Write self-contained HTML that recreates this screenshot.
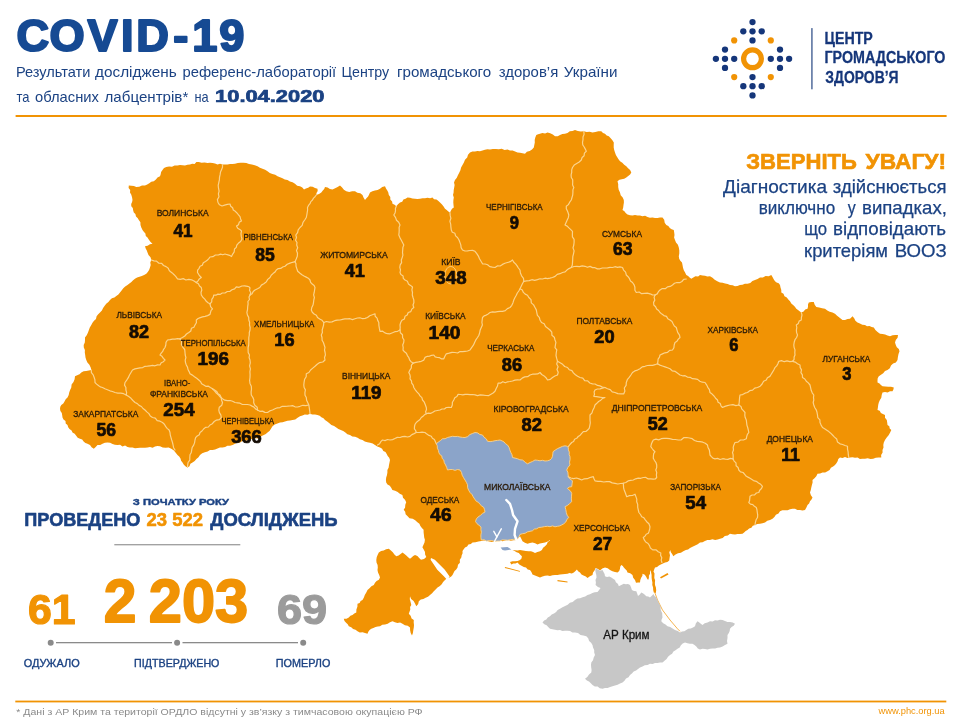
<!DOCTYPE html>
<html lang="uk"><head><meta charset="utf-8"><title>COVID-19</title>
<style>html,body{margin:0;padding:0;background:#fff}body{width:960px;height:721px;overflow:hidden}svg{display:block}text{font-family:"Liberation Sans",sans-serif}</style></head><body>
<svg width="960" height="721" viewBox="0 0 960 721">
<rect width="960" height="721" fill="#fff"/>
<text x="16.4 49.6 87.6 121.1 136.2 173.2 192.2 219.2" y="50.9" font-size="45.2" fill="#164A93" font-weight="bold" stroke="#164A93" stroke-width="2.1" stroke-linejoin="round">COVID-19</text>
<text y="77.2" font-size="14.2" fill="#1B4283" lengthAdjust="spacingAndGlyphs"><tspan x="15.97" textLength="74.48" lengthAdjust="spacingAndGlyphs">Результати</tspan> <tspan x="95.00" textLength="81.72" lengthAdjust="spacingAndGlyphs">досліджень</tspan> <tspan x="182.50" textLength="153.74" lengthAdjust="spacingAndGlyphs">референс-лабораторії</tspan> <tspan x="341.50" textLength="47.59" lengthAdjust="spacingAndGlyphs">Центру</tspan> <tspan x="397.00" textLength="94.18" lengthAdjust="spacingAndGlyphs">громадського</tspan> <tspan x="498.80" textLength="59.42" lengthAdjust="spacingAndGlyphs">здоров’я</tspan> <tspan x="563.80" textLength="53.69" lengthAdjust="spacingAndGlyphs">України</tspan></text>
<text y="102.3" font-size="14.2" fill="#1B4283" lengthAdjust="spacingAndGlyphs"><tspan x="16.40" textLength="13.00" lengthAdjust="spacingAndGlyphs">та</tspan> <tspan x="35.00" textLength="63.90" lengthAdjust="spacingAndGlyphs">обласних</tspan> <tspan x="104.50" textLength="83.79" lengthAdjust="spacingAndGlyphs">лабцентрів*</tspan> <tspan x="194.50" textLength="14.20" lengthAdjust="spacingAndGlyphs">на</tspan></text>
<text x="215.09" y="102.3" font-size="17.4" fill="#1B4283" textLength="109.40" lengthAdjust="spacingAndGlyphs" font-weight="bold" stroke="#1B4283" stroke-width="0.7" stroke-linejoin="round">10.04.2020</text>
<rect x="15.6" y="115" width="931" height="2" fill="#F19304"/>
<g fill="#15367A">
<circle cx="752.5" cy="22.1" r="3.15"/>
<circle cx="743.3" cy="31.3" r="3.15"/>
<circle cx="752.5" cy="31.3" r="3.15"/>
<circle cx="761.7" cy="31.3" r="3.15"/>
<circle cx="752.5" cy="40.4" r="3.15"/>
<circle cx="752.5" cy="95.4" r="3.15"/>
<circle cx="743.3" cy="86.2" r="3.15"/>
<circle cx="752.5" cy="86.2" r="3.15"/>
<circle cx="761.7" cy="86.2" r="3.15"/>
<circle cx="752.5" cy="77.1" r="3.15"/>
<circle cx="715.9" cy="58.8" r="3.15"/>
<circle cx="725.0" cy="49.6" r="3.15"/>
<circle cx="725.0" cy="58.8" r="3.15"/>
<circle cx="725.0" cy="67.9" r="3.15"/>
<circle cx="734.2" cy="58.8" r="3.15"/>
<circle cx="789.1" cy="58.8" r="3.15"/>
<circle cx="780.0" cy="49.6" r="3.15"/>
<circle cx="780.0" cy="58.8" r="3.15"/>
<circle cx="780.0" cy="67.9" r="3.15"/>
<circle cx="770.8" cy="58.8" r="3.15"/>
</g>
<g fill="#F19304">
<circle cx="734.2" cy="40.4" r="3.1"/>
<circle cx="770.8" cy="40.4" r="3.1"/>
<circle cx="734.2" cy="77.1" r="3.1"/>
<circle cx="770.8" cy="77.1" r="3.1"/>
</g>
<circle cx="752.5" cy="58.8" r="8.9" fill="none" stroke="#F19304" stroke-width="5.2"/>
<rect x="811.3" y="28.1" width="1.25" height="61.2" fill="#2F4F88"/>
<text x="824.53" y="44.3" font-size="17.4" fill="#15367A" textLength="48.31" lengthAdjust="spacingAndGlyphs" font-weight="bold" stroke="#15367A" stroke-width="0.3" stroke-linejoin="round">ЦЕНТР</text>
<text x="824.53" y="63.1" font-size="17.4" fill="#15367A" textLength="120.95" lengthAdjust="spacingAndGlyphs" font-weight="bold" stroke="#15367A" stroke-width="0.3" stroke-linejoin="round">ГРОМАДСЬКОГО</text>
<text x="825.35" y="82.9" font-size="17.4" fill="#15367A" textLength="73.20" lengthAdjust="spacingAndGlyphs" font-weight="bold" stroke="#15367A" stroke-width="0.3" stroke-linejoin="round">ЗДОРОВ’Я</text>
<text y="169.0" font-size="21.2" fill="#F19304" lengthAdjust="spacingAndGlyphs" font-weight="bold" stroke-width="0.6" stroke-linejoin="round" stroke="#F19304"><tspan x="746.30" textLength="110.64" lengthAdjust="spacingAndGlyphs">ЗВЕРНІТЬ</tspan> <tspan x="865.50" textLength="80.53" lengthAdjust="spacingAndGlyphs">УВАГУ!</tspan></text>
<text y="192.6" font-size="17.8" fill="#1B4283" lengthAdjust="spacingAndGlyphs" stroke-width="0.25" stroke-linejoin="round" stroke="#1B4283"><tspan x="723.12" textLength="103.93" lengthAdjust="spacingAndGlyphs">Діагностика</tspan> <tspan x="832.83" textLength="113.71" lengthAdjust="spacingAndGlyphs">здійснюється</tspan></text>
<text y="213.8" font-size="17.8" fill="#1B4283" lengthAdjust="spacingAndGlyphs" stroke-width="0.25" stroke-linejoin="round" stroke="#1B4283"><tspan x="758.77" textLength="76.40" lengthAdjust="spacingAndGlyphs">виключно</tspan> <tspan x="847.73" textLength="7.95" lengthAdjust="spacingAndGlyphs">у</tspan> <tspan x="862.08" textLength="84.78" lengthAdjust="spacingAndGlyphs">випадках,</tspan></text>
<text y="235.4" font-size="17.8" fill="#1B4283" lengthAdjust="spacingAndGlyphs" stroke-width="0.25" stroke-linejoin="round" stroke="#1B4283"><tspan x="804.18" textLength="22.89" lengthAdjust="spacingAndGlyphs">що</tspan> <tspan x="833.07" textLength="113.08" lengthAdjust="spacingAndGlyphs">відповідають</tspan></text>
<text y="256.6" font-size="17.8" fill="#1B4283" lengthAdjust="spacingAndGlyphs" stroke-width="0.25" stroke-linejoin="round" stroke="#1B4283"><tspan x="804.09" textLength="83.95" lengthAdjust="spacingAndGlyphs">критеріям</tspan> <tspan x="894.68" textLength="51.97" lengthAdjust="spacingAndGlyphs">ВООЗ</tspan></text>
<path d="M128.8,185.5 L131.3,185.8 L133.9,186.0 L136.3,187.0 L139.2,186.7 L142.0,185.4 L145.0,185.5 L147.2,184.5 L149.3,183.2 L151.3,181.8 L153.8,181.3 L155.9,179.6 L157.5,177.5 L160.0,176.3 L160.7,174.2 L161.1,171.9 L162.5,170.0 L164.0,168.1 L166.3,167.0 L169.1,166.5 L172.0,166.7 L174.6,165.4 L177.5,165.5 L180.0,164.9 L182.5,165.3 L185.0,165.5 L187.5,164.8 L190.0,164.5 L192.2,163.7 L194.6,163.9 L196.4,162.0 L198.8,162.0 L201.6,162.8 L204.6,162.4 L207.5,163.0 L210.0,162.8 L212.6,163.0 L215.0,163.5 L217.5,164.4 L220.0,163.8 L222.5,164.5 L225.0,164.5 L227.5,164.4 L230.0,163.9 L232.5,164.0 L235.0,163.8 L237.8,163.0 L240.6,162.8 L243.4,162.8 L246.3,163.0 L249.0,164.1 L251.9,164.6 L254.8,165.2 L257.5,166.3 L259.9,167.7 L262.5,168.7 L265.1,169.8 L267.5,171.3 L269.8,172.9 L272.4,174.0 L275.2,174.7 L277.5,176.3 L280.0,177.3 L282.5,178.2 L284.8,179.6 L287.5,180.0 L289.9,181.6 L292.6,182.3 L295.0,183.8 L297.2,185.7 L300.0,186.3 L302.3,187.5 L304.0,189.5 L305.9,188.4 L308.2,187.8 L310.0,186.5 L312.6,186.8 L315.0,188.0 L317.5,188.8 L317.7,191.0 L316.5,192.9 L316.3,195.0 L319.0,194.1 L321.3,192.5 L322.6,190.7 L324.2,189.1 L325.0,187.0 L327.6,187.6 L329.9,188.9 L332.5,189.5 L335.1,188.3 L337.6,186.9 L340.0,185.5 L342.1,187.4 L343.9,189.7 L346.3,191.3 L349.2,191.9 L352.1,191.3 L355.0,191.3 L357.4,192.7 L360.3,193.2 L362.5,195.0 L363.5,197.6 L365.0,200.0 L366.4,198.2 L368.1,196.6 L369.1,194.6 L370.0,192.5 L372.4,191.3 L374.9,190.5 L377.6,189.9 L380.0,188.8 L382.2,187.0 L385.0,186.3 L386.0,188.5 L387.3,190.5 L388.3,192.6 L388.8,195.0 L390.3,197.0 L390.3,199.5 L392.1,201.4 L392.5,203.8 L394.6,204.8 L396.3,206.3 L398.0,204.3 L400.0,202.5 L402.2,201.7 L403.4,199.5 L405.6,198.7 L407.5,197.5 L410.0,197.8 L412.4,198.6 L415.0,198.7 L417.4,199.0 L420.0,198.8 L422.5,198.2 L425.0,198.2 L427.5,197.8 L430.1,198.3 L432.5,197.5 L434.0,199.3 L436.5,199.6 L438.4,200.9 L440.0,202.5 L442.0,204.4 L443.6,206.5 L445.0,208.8 L446.7,210.0 L448.3,211.4 L450.0,212.5 L451.0,210.6 L452.0,208.7 L453.8,207.5 L453.5,205.0 L453.3,202.5 L453.4,200.0 L453.8,197.5 L453.0,195.0 L453.6,192.5 L453.7,190.0 L454.2,187.5 L454.6,185.0 L454.0,182.4 L455.0,180.0 L456.8,177.8 L457.9,175.2 L459.2,172.7 L460.4,170.2 L461.1,167.4 L462.5,165.0 L463.9,162.4 L465.0,159.7 L467.2,157.6 L468.0,154.7 L470.0,152.5 L472.4,151.6 L475.0,151.5 L477.4,151.1 L480.0,151.3 L482.5,150.6 L484.9,149.8 L487.4,149.3 L490.0,149.5 L492.9,149.0 L495.8,148.9 L498.8,149.3 L501.7,148.8 L504.6,150.0 L507.5,149.5 L510.0,150.4 L512.6,150.5 L515.1,151.4 L517.5,152.5 L520.0,152.7 L522.5,153.2 L525.0,153.8 L526.9,151.8 L529.7,151.0 L532.0,149.6 L533.8,147.5 L534.3,145.0 L534.8,142.5 L534.7,139.9 L535.3,137.4 L536.3,135.0 L538.1,134.2 L540.0,133.8 L542.4,133.0 L545.1,133.4 L547.5,132.5 L550.2,133.3 L552.8,134.4 L555.0,136.3 L557.7,136.3 L560.0,135.1 L562.4,133.9 L565.0,133.8 L567.5,132.9 L569.8,131.3 L572.5,131.0 L575.0,130.0 L577.8,131.1 L580.8,131.4 L583.8,131.3 L586.7,132.0 L589.6,131.8 L592.5,132.5 L595.4,131.9 L598.3,131.2 L601.3,131.3 L603.0,132.9 L605.0,133.8 L606.7,135.4 L608.8,136.3 L610.7,138.2 L612.4,140.2 L613.8,142.5 L613.7,145.1 L613.7,147.6 L614.2,150.1 L615.0,152.5 L615.9,154.9 L617.1,157.1 L618.5,159.3 L620.0,161.3 L622.3,162.7 L624.2,164.7 L626.3,166.3 L628.1,168.2 L630.1,170.0 L631.3,172.5 L630.1,174.6 L628.2,176.1 L626.3,177.5 L624.2,178.8 L621.8,179.2 L619.4,179.8 L617.5,181.3 L618.2,184.1 L618.2,187.0 L618.7,189.8 L620.0,192.5 L620.7,195.3 L622.7,197.4 L623.8,200.0 L623.9,202.6 L623.5,205.0 L623.2,207.6 L622.5,210.0 L624.4,211.2 L625.7,213.1 L627.5,214.5 L630.0,215.3 L632.5,215.4 L635.0,215.1 L637.5,215.5 L640.0,215.5 L642.4,216.3 L645.1,215.7 L647.5,216.9 L649.9,217.7 L652.5,217.5 L655.0,217.9 L657.5,217.9 L660.0,217.5 L662.5,217.5 L664.2,219.8 L664.7,222.7 L666.3,225.0 L668.3,226.1 L669.8,227.9 L671.6,229.3 L673.8,230.0 L674.2,232.5 L674.5,235.0 L674.1,237.6 L675.0,240.0 L676.0,242.6 L677.9,244.8 L678.8,247.5 L679.3,250.4 L679.3,253.4 L678.8,256.3 L679.2,258.7 L680.3,260.8 L682.0,262.6 L682.5,265.0 L683.0,267.7 L683.8,270.2 L685.1,272.6 L686.3,275.0 L688.1,276.1 L689.6,277.6 L691.3,278.8 L693.3,277.4 L695.4,276.3 L698.1,276.6 L700.0,275.0 L702.5,275.5 L705.0,275.7 L707.4,276.6 L710.0,276.3 L712.5,277.8 L714.7,279.8 L717.3,281.3 L720.0,282.5 L722.6,282.7 L725.1,283.4 L727.6,284.1 L730.0,285.0 L732.6,285.3 L735.0,286.3 L737.5,285.9 L739.9,285.0 L742.5,284.7 L744.9,283.8 L747.5,283.8 L750.3,283.1 L752.4,281.1 L755.0,280.0 L757.6,278.9 L760.0,277.5 L762.9,277.4 L765.6,276.1 L768.6,276.2 L771.3,275.0 L772.5,277.1 L773.7,279.2 L775.0,281.3 L776.6,282.6 L778.7,283.2 L780.0,285.0 L780.5,287.5 L781.3,289.9 L781.3,292.5 L783.5,293.8 L784.5,296.3 L786.8,297.5 L788.3,299.5 L790.0,301.3 L791.3,303.4 L793.1,305.1 L794.9,306.8 L796.3,308.8 L798.0,310.1 L799.6,311.3 L801.3,312.5 L803.6,311.6 L805.2,309.6 L807.5,308.8 L808.0,306.7 L808.0,304.5 L808.8,302.5 L811.3,301.9 L813.8,302.0 L814.7,304.7 L816.3,307.0 L819.2,307.6 L822.1,308.3 L825.0,308.8 L827.3,310.4 L829.7,311.8 L832.5,312.5 L835.0,313.8 L836.8,315.5 L838.7,316.9 L840.6,318.5 L842.5,320.0 L845.0,319.9 L847.5,319.1 L850.0,318.8 L851.3,317.6 L852.5,316.3 L854.2,318.3 L855.4,320.8 L857.5,322.5 L859.9,323.6 L862.3,324.7 L865.0,325.0 L867.0,326.2 L869.5,325.9 L871.6,327.0 L873.8,327.5 L875.4,330.0 L877.6,332.0 L880.0,333.8 L882.6,333.9 L885.1,334.5 L887.5,335.6 L890.0,336.3 L892.6,335.3 L895.3,335.1 L898.0,335.0 L897.6,337.7 L895.8,339.9 L895.0,342.5 L895.8,344.9 L896.8,347.2 L898.8,348.9 L899.5,351.3 L898.5,354.1 L897.9,357.0 L897.5,360.0 L895.9,362.4 L893.1,363.6 L891.0,365.5 L889.8,368.3 L887.5,370.0 L885.0,371.1 L883.2,373.3 L881.0,374.7 L878.8,376.3 L877.7,378.2 L877.5,380.3 L877.5,382.5 L879.5,383.4 L880.9,385.0 L882.5,386.3 L885.3,386.6 L888.2,386.7 L891.0,386.8 L893.8,387.5 L893.4,389.5 L892.5,391.3 L890.0,391.3 L887.6,392.6 L885.0,392.1 L882.5,392.5 L881.7,395.0 L881.3,397.7 L879.9,400.1 L878.8,402.5 L878.2,405.0 L877.9,407.5 L877.5,410.0 L879.7,410.7 L880.9,413.1 L882.9,414.1 L885.0,415.0 L885.0,417.7 L886.8,419.9 L887.2,422.4 L887.5,425.0 L889.3,426.3 L889.7,428.6 L891.3,430.0 L890.0,432.7 L888.6,435.3 L886.7,437.6 L885.0,440.0 L883.8,442.4 L883.3,444.9 L883.5,447.6 L882.5,450.0 L882.6,452.6 L881.1,454.9 L881.3,457.5 L878.6,457.6 L875.8,457.7 L873.2,458.7 L870.5,459.0 L867.7,458.3 L865.0,458.8 L862.5,458.7 L859.9,459.0 L857.6,457.5 L855.0,457.7 L852.5,457.3 L850.0,457.5 L847.5,458.1 L845.0,457.0 L842.5,458.1 L840.0,457.5 L838.3,459.1 L837.6,461.3 L836.4,463.2 L835.0,465.0 L833.1,466.5 L830.9,467.7 L829.6,470.0 L827.5,471.3 L825.1,472.4 L822.5,472.5 L820.1,473.5 L817.5,473.8 L816.3,476.2 L814.5,478.2 L812.5,480.0 L812.6,482.6 L811.9,485.1 L811.3,487.6 L810.8,490.1 L810.0,492.5 L810.9,495.2 L812.5,497.5 L811.5,499.5 L810.0,501.2 L809.1,503.4 L807.5,505.0 L806.4,507.6 L805.0,510.0 L802.4,510.4 L800.0,509.9 L797.4,510.0 L795.0,508.7 L792.5,508.8 L790.0,509.2 L787.6,510.2 L785.0,510.3 L782.4,510.2 L780.0,511.3 L778.5,513.6 L775.9,514.7 L774.4,517.0 L772.5,518.8 L770.0,520.0 L767.3,520.8 L765.0,522.5 L762.5,523.3 L760.0,523.7 L757.4,524.1 L755.0,525.0 L752.8,525.7 L751.4,527.7 L749.1,528.4 L747.5,530.0 L745.7,531.0 L744.1,532.4 L742.5,533.8 L740.0,533.9 L737.5,534.0 L735.0,534.4 L732.5,534.3 L730.0,533.8 L727.8,535.6 L724.8,536.0 L722.7,537.9 L720.0,538.8 L717.6,539.6 L715.1,540.0 L712.4,539.2 L710.0,540.0 L707.4,540.1 L704.9,541.0 L702.6,542.2 L700.0,542.5 L697.7,544.2 L695.1,545.5 L692.5,546.7 L690.0,548.0 L688.1,549.4 L685.8,550.0 L683.3,551.3 L680.9,552.8 L678.0,553.2 L675.5,554.4 L673.3,556.3 L672.3,554.2 L670.9,552.3 L670.2,550.0 L669.3,552.5 L670.0,555.2 L669.6,557.8 L669.2,560.4 L667.4,562.1 L665.1,562.6 L662.9,563.6 L660.8,564.6 L658.9,565.6 L657.1,566.9 L655.0,567.5 L654.2,569.5 L653.5,571.5 L654.5,573.6 L654.4,575.8 L654.3,578.0 L655.1,580.3 L654.9,582.7 L655.0,585.0 L655.9,587.6 L656.2,590.3 L655.8,593.0 L653.8,592.5 L653.2,590.0 L653.1,587.5 L652.3,585.1 L652.4,582.5 L651.9,580.0 L651.6,577.5 L651.6,575.0 L651.1,572.5 L650.6,570.0 L650.0,571.9 L650.0,573.8 L648.9,575.7 L648.9,578.0 L648.1,580.0 L647.0,578.6 L646.3,576.9 L644.8,574.8 L642.5,573.8 L642.4,575.8 L641.3,577.5 L640.3,579.9 L640.0,582.5 L638.0,582.5 L636.0,582.8 L635.0,580.0 L633.2,577.8 L632.5,575.0 L630.2,573.3 L627.5,572.5 L626.7,570.5 L625.2,569.1 L623.8,567.5 L622.8,566.0 L621.3,565.0 L620.2,566.8 L620.0,568.8 L619.2,570.9 L617.5,572.5 L615.0,571.9 L612.5,571.3 L610.0,570.0 L607.7,568.3 L605.0,567.5 L602.3,568.6 L600.0,570.5 L598.0,568.9 L595.6,568.1 L594.5,570.4 L593.0,572.5 L592.5,575.0 L589.9,576.3 L587.5,578.0 L585.8,576.4 L583.5,575.6 L581.5,574.4 L580.0,572.5 L578.1,571.3 L576.9,569.4 L575.5,571.1 L573.8,572.5 L571.8,573.5 L569.5,572.9 L567.5,573.8 L565.0,574.0 L562.5,574.2 L560.0,574.5 L557.5,575.0 L555.0,574.9 L552.5,575.3 L550.0,576.1 L547.5,575.6 L544.9,575.8 L542.4,576.5 L540.0,577.5 L537.5,576.5 L535.0,575.4 L532.5,574.4 L531.4,572.1 L530.0,570.0 L527.7,569.5 L526.0,567.6 L523.8,566.9 L521.5,565.7 L519.3,564.5 L517.5,562.5 L515.5,563.4 L513.3,563.5 L511.3,564.4 L510.0,561.9 L512.5,561.2 L515.0,561.3 L517.6,561.0 L520.0,560.0 L521.5,558.5 L521.9,556.3 L520.3,554.7 L518.8,553.1 L516.6,552.2 L514.6,551.1 L512.5,550.0 L515.0,550.3 L517.5,550.4 L520.0,550.0 L522.9,550.6 L525.8,551.1 L528.8,551.3 L531.0,551.3 L533.1,552.0 L535.0,553.1 L537.4,551.9 L540.0,551.3 L541.9,549.9 L543.1,547.8 L545.0,546.3 L546.7,544.5 L547.8,542.0 L550.0,540.6 L550.0,540.0 L547.7,541.6 L545.1,542.4 L542.5,543.1 L539.9,543.5 L537.5,544.4 L535.1,543.2 L532.5,542.5 L529.9,542.9 L527.5,543.8 L524.9,542.8 L522.5,541.3 L521.3,538.8 L520.0,536.3 L518.2,538.2 L516.3,540.0 L513.5,540.2 L510.7,540.8 L507.8,539.8 L505.0,540.5 L502.4,541.2 L499.6,540.3 L497.0,540.6 L494.4,541.5 L491.8,542.1 L489.2,541.4 L486.6,540.8 L483.9,540.4 L481.3,541.0 L478.4,541.6 L475.5,542.3 L472.5,542.5 L470.9,544.1 L468.4,544.5 L467.1,546.6 L465.0,547.5 L463.7,549.2 L462.5,551.0 L462.6,553.3 L461.7,555.3 L461.3,557.5 L459.8,559.8 L459.9,562.7 L458.0,564.8 L457.5,567.5 L456.2,569.4 L454.5,570.9 L453.5,573.0 L452.5,575.0 L451.2,576.5 L449.5,577.5 L447.0,578.3 L445.0,580.0 L443.1,581.9 L441.7,584.2 L439.9,586.1 L437.5,587.5 L435.6,589.4 L433.8,591.3 L432.1,593.3 L430.0,595.0 L428.0,596.7 L425.6,597.7 L423.4,599.0 L420.8,599.6 L418.8,601.3 L418.2,604.1 L416.3,606.3 L415.0,603.6 L413.6,601.0 L411.1,599.1 L410.0,596.3 L409.8,599.3 L410.6,602.1 L411.3,605.0 L410.1,607.0 L410.3,609.5 L409.6,611.6 L408.8,613.8 L410.6,615.8 L411.6,618.4 L413.8,620.0 L413.7,622.5 L414.0,625.0 L413.8,627.5 L413.3,630.2 L412.9,632.9 L412.0,635.5 L410.7,633.0 L410.1,630.3 L410.0,627.5 L407.7,625.8 L404.9,625.3 L402.5,623.8 L400.1,622.6 L397.4,622.9 L394.9,622.2 L392.5,621.3 L390.0,622.3 L387.7,623.7 L385.1,624.5 L382.3,624.7 L380.0,626.3 L377.7,626.4 L375.5,627.1 L373.4,628.0 L371.3,628.8 L369.6,630.1 L368.3,631.8 L367.5,633.8 L365.0,633.1 L362.6,632.3 L359.8,632.5 L357.5,631.3 L355.5,629.8 L353.1,628.9 L351.2,627.2 L348.8,626.3 L347.7,624.3 L346.1,622.7 L344.5,621.0 L343.8,618.8 L346.5,618.7 L348.8,617.5 L350.4,615.8 L352.5,615.0 L354.3,613.6 L356.3,612.5 L356.4,609.6 L357.4,606.7 L357.5,603.8 L359.6,603.1 L360.6,601.0 L362.5,600.0 L363.9,597.6 L364.8,594.9 L366.3,592.5 L367.5,590.0 L369.5,588.2 L371.4,586.3 L373.8,585.0 L375.0,582.8 L376.6,581.0 L378.9,579.7 L380.0,577.5 L379.2,575.0 L378.0,572.6 L377.5,570.0 L377.8,567.4 L377.6,564.9 L376.5,562.5 L376.3,560.0 L376.7,557.3 L377.6,554.9 L378.8,552.5 L381.1,551.0 L383.7,550.4 L386.1,549.2 L388.8,548.8 L390.9,550.4 L392.8,552.3 L394.4,554.5 L396.3,556.3 L398.6,555.5 L400.6,554.1 L402.5,552.5 L404.5,554.0 L406.3,555.6 L408.1,557.3 L410.0,558.8 L411.6,557.4 L413.2,556.1 L415.0,555.0 L417.4,556.1 L419.2,558.0 L421.0,559.8 L424.0,559.0 L426.3,557.0 L425.1,554.6 L425.0,552.0 L423.7,549.6 L422.4,547.3 L423.4,544.9 L424.5,542.5 L424.9,539.8 L424.2,537.4 L423.9,534.8 L423.6,532.3 L423.6,529.8 L421.9,528.0 L420.4,526.1 L419.4,523.8 L417.4,522.3 L415.2,520.3 L412.7,518.8 L409.5,518.2 L407.4,516.1 L405.6,514.3 L405.2,511.8 L403.7,509.8 L405.1,507.5 L405.3,504.8 L406.2,502.3 L405.0,499.8 L403.0,497.7 L402.4,494.9 L399.8,493.8 L397.7,491.9 L395.1,490.7 L392.4,489.9 L391.2,487.7 L389.8,485.7 L387.5,484.5 L386.2,482.4 L385.9,479.9 L386.2,477.4 L387.0,475.0 L387.4,472.5 L387.4,470.0 L388.6,467.7 L389.0,465.1 L389.5,462.6 L390.0,460.0 L389.2,457.8 L387.7,456.0 L386.7,454.0 L385.5,452.0 L383.3,451.0 L382.1,448.7 L380.0,447.5 L377.3,446.6 L375.0,445.0 L372.7,443.5 L370.1,442.8 L367.4,442.3 L364.8,441.5 L362.5,440.0 L359.9,439.3 L357.6,437.8 L355.1,436.7 L352.3,436.5 L350.0,435.0 L347.4,434.3 L345.4,432.5 L343.2,431.1 L340.8,430.1 L338.4,429.1 L336.3,427.5 L334.1,425.9 L331.4,425.1 L329.4,423.2 L327.2,421.5 L325.0,420.0 L323.5,418.2 L321.4,417.3 L319.7,415.8 L317.5,415.0 L315.0,414.6 L312.4,414.6 L310.0,413.8 L307.6,414.8 L304.8,414.4 L302.4,415.4 L300.0,416.3 L297.6,417.8 L295.3,419.4 L292.5,420.0 L290.0,420.5 L287.5,420.8 L285.0,421.6 L282.6,422.3 L280.0,422.5 L277.4,423.6 L274.7,424.5 L272.5,426.3 L271.1,428.6 L269.7,430.8 L267.5,432.5 L265.8,433.9 L263.8,435.1 L261.7,436.0 L260.0,437.5 L257.6,438.4 L254.9,438.1 L252.4,438.7 L250.0,439.5 L247.5,440.0 L245.1,441.2 L242.3,440.9 L240.1,442.5 L237.4,442.6 L235.0,443.8 L232.6,444.9 L230.1,445.7 L227.4,445.7 L225.1,447.0 L222.5,447.5 L219.9,447.4 L217.5,448.5 L215.1,449.4 L212.6,449.9 L210.0,450.0 L207.6,451.4 L204.9,452.3 L202.2,453.2 L200.0,455.0 L198.5,457.2 L196.4,458.9 L194.7,460.9 L192.5,462.5 L190.4,463.7 L189.5,466.2 L187.5,467.5 L185.4,466.3 L183.7,464.6 L182.5,462.5 L181.1,460.7 L180.5,458.4 L179.2,456.6 L177.5,455.0 L175.7,452.7 L173.9,450.4 L171.3,448.8 L168.6,447.6 L165.6,447.8 L162.7,447.4 L160.0,446.3 L157.4,445.9 L155.0,446.4 L152.6,447.7 L150.0,447.0 L147.5,447.5 L145.0,447.7 L142.5,447.7 L140.0,447.7 L137.5,448.0 L135.0,448.2 L132.5,447.5 L129.9,447.4 L127.5,446.9 L125.1,445.6 L122.4,446.4 L120.1,444.8 L117.5,445.0 L114.9,444.8 L112.5,443.9 L110.1,442.7 L107.5,442.5 L104.9,442.7 L102.5,443.8 L100.2,445.0 L97.5,445.0 L95.7,446.9 L93.8,448.8 L91.6,447.3 L90.0,445.0 L87.5,443.8 L85.4,442.9 L83.6,441.5 L82.2,439.6 L80.0,438.8 L77.7,437.7 L76.2,435.7 L74.7,433.7 L72.5,432.5 L71.6,430.4 L69.5,429.1 L68.2,427.2 L67.5,425.0 L65.7,423.5 L65.5,420.9 L63.5,419.6 L62.5,417.5 L62.2,415.2 L61.8,413.0 L60.4,411.0 L60.0,408.8 L60.3,406.8 L61.3,405.0 L63.3,403.5 L64.5,401.4 L65.7,399.2 L67.5,397.5 L68.7,395.1 L69.2,392.4 L70.1,389.9 L71.3,387.5 L71.6,384.5 L73.5,382.0 L74.6,379.3 L75.0,376.3 L77.2,375.2 L79.5,374.3 L81.3,372.5 L83.6,371.2 L86.2,370.9 L88.8,370.6 L91.3,370.0 L90.6,367.2 L89.4,364.7 L87.4,362.6 L86.3,360.0 L85.5,357.6 L85.2,355.0 L84.8,352.5 L84.9,349.9 L83.8,347.5 L83.7,344.9 L84.8,342.6 L85.0,340.0 L85.0,337.5 L86.7,335.2 L87.9,332.7 L88.9,330.1 L89.8,327.4 L91.3,325.0 L92.5,322.8 L94.0,320.7 L96.0,319.0 L96.6,316.3 L98.2,314.3 L100.0,312.5 L101.9,310.6 L103.1,308.1 L104.5,305.9 L106.2,303.8 L108.4,302.1 L110.0,300.0 L111.9,298.3 L114.4,297.5 L116.3,295.9 L118.4,294.5 L120.0,292.5 L121.6,290.4 L123.3,288.3 L125.2,286.5 L127.5,285.0 L129.4,283.4 L131.4,282.1 L133.1,280.3 L135.0,278.8 L137.1,277.5 L139.5,276.7 L141.8,276.0 L144.1,275.0 L146.3,273.8 L147.8,271.9 L149.2,269.8 L150.0,267.5 L150.7,265.0 L150.3,262.4 L151.3,260.0 L150.5,257.3 L148.5,255.1 L147.5,252.5 L146.8,250.4 L145.7,248.4 L145.0,246.3 L147.6,245.8 L149.9,244.2 L152.5,243.8 L150.6,241.9 L148.9,239.8 L147.5,237.5 L145.8,235.9 L145.4,233.5 L143.8,231.8 L142.5,230.0 L141.3,227.6 L140.5,225.1 L140.4,222.3 L138.8,220.0 L137.6,218.1 L136.0,216.5 L135.4,214.1 L133.8,212.5 L133.2,210.4 L132.8,208.1 L131.3,206.3 L131.2,204.1 L132.1,202.1 L132.5,200.0 L132.1,197.4 L131.3,194.8 L130.0,192.5 L130.2,190.1 L128.6,187.9Z" fill="#F19304"/>
<path d="M660.0,577.2 L667.5,573.0 L668.5,574.4 L661.0,578.6Z" fill="#F19304"/>
<path d="M557.5,580.0 L567.5,581.5 L567.5,582.6 L557.5,581.2Z" fill="#F19304"/>
<path d="M505.0,567.0 L520.0,570.9 L519.8,571.8 L504.8,567.9Z" fill="#F19304"/>
<path d="M654.8,592.5 L657.5,600.0 L662.5,610.0 L670.0,620.0 L677.5,628.8 L680.0,631.3" fill="none" stroke="#F19304" stroke-width=".7"/>
<path d="M595.6,568.3 L597.8,569.5 L600.0,570.8 L602.5,570.0 L603.5,572.0 L604.6,574.0 L605.0,576.3 L607.0,577.1 L609.3,576.5 L611.3,577.5 L613.1,578.8 L615.0,580.0 L615.9,582.3 L618.0,583.9 L618.8,586.3 L621.3,585.1 L623.8,583.8 L625.8,584.3 L628.0,584.1 L630.0,585.0 L631.1,587.4 L631.9,590.0 L634.0,590.9 L636.3,591.3 L637.2,593.6 L638.0,596.0 L639.8,594.4 L641.3,592.5 L643.2,593.4 L644.8,594.8 L646.3,596.3 L648.3,596.5 L650.0,597.5 L651.8,595.8 L653.5,594.0 L654.5,596.1 L656.3,597.5 L657.4,600.0 L658.5,602.6 L660.0,605.0 L660.6,607.1 L660.6,609.3 L661.3,611.3 L662.2,613.3 L662.3,615.4 L662.5,617.5 L661.7,619.3 L661.3,621.3 L663.2,623.2 L665.5,624.6 L667.5,626.3 L670.2,627.1 L672.6,628.5 L675.0,630.0 L677.7,630.9 L680.0,632.5 L682.0,631.4 L684.3,631.2 L686.3,630.0 L688.3,628.7 L690.8,628.6 L693.0,627.6 L695.0,626.3 L695.8,623.6 L697.5,621.3 L699.3,622.4 L700.8,623.8 L702.5,625.0 L704.7,623.3 L707.5,622.5 L710.0,621.3 L712.6,621.5 L715.0,620.3 L717.5,620.6 L720.0,619.8 L722.5,620.0 L725.0,620.9 L727.4,622.0 L730.1,621.9 L732.7,622.5 L735.0,623.8 L733.7,625.8 L731.6,627.1 L730.0,628.8 L729.7,631.1 L728.8,633.1 L727.5,635.0 L727.5,637.9 L727.0,640.9 L727.5,643.8 L725.0,645.1 L722.6,646.4 L720.0,647.5 L717.5,647.7 L715.1,648.6 L712.5,648.4 L710.0,648.8 L707.5,649.4 L705.0,649.0 L702.5,648.8 L700.0,649.5 L697.8,648.5 L696.3,646.6 L694.5,645.1 L692.5,643.8 L689.9,643.8 L687.5,643.2 L685.0,642.5 L682.7,643.6 L680.9,645.2 L679.7,647.6 L677.5,648.8 L675.5,650.2 L673.4,651.5 L672.1,653.7 L670.0,655.0 L668.0,656.8 L666.6,659.1 L664.5,660.7 L662.5,662.5 L660.0,662.6 L657.5,662.9 L655.0,663.0 L652.6,664.0 L650.0,663.8 L647.6,664.9 L644.8,665.2 L642.5,666.5 L640.0,667.5 L638.0,669.0 L636.1,670.6 L633.7,671.5 L631.9,673.4 L630.0,675.0 L628.5,677.3 L626.0,678.5 L624.5,680.8 L622.5,682.5 L620.0,683.5 L617.6,684.7 L615.0,685.4 L612.5,686.3 L610.1,687.1 L607.6,688.0 L605.0,688.0 L602.5,688.8 L599.8,688.3 L597.6,686.6 L594.8,686.5 L592.5,685.0 L590.8,683.2 L589.0,681.6 L586.9,680.4 L585.0,678.8 L587.3,676.9 L589.0,674.4 L591.3,672.5 L591.6,670.0 L591.2,667.5 L591.0,665.0 L591.3,662.5 L593.0,660.2 L593.7,657.4 L595.0,655.0 L594.2,652.5 L594.2,649.9 L593.0,647.5 L592.5,645.0 L591.1,642.7 L589.1,640.9 L588.2,638.2 L586.3,636.3 L583.4,635.6 L580.5,634.9 L578.0,632.9 L575.0,632.5 L572.4,632.5 L570.1,631.1 L567.6,630.7 L565.0,630.7 L562.4,631.0 L560.0,630.0 L557.4,630.2 L555.0,629.7 L552.5,629.2 L550.0,628.8 L548.2,627.1 L546.6,625.2 L544.3,624.2 L542.5,622.5 L544.1,620.6 L546.3,619.5 L547.8,617.5 L550.0,616.3 L551.7,614.4 L554.0,613.4 L556.1,612.0 L557.7,609.9 L560.0,608.8 L562.5,607.3 L565.1,606.1 L567.7,604.7 L569.9,602.8 L572.7,601.9 L575.0,600.0 L577.4,598.6 L580.1,598.2 L582.6,597.3 L585.2,596.4 L587.5,595.0 L590.0,594.2 L592.4,593.0 L594.8,592.2 L597.5,591.9 L599.1,590.0 L600.6,588.1 L597.9,586.9 L595.6,585.0 L595.9,582.5 L595.5,580.0 L596.5,577.5 L596.3,575.0 L595.7,572.8 L595.3,570.6Z" fill="#C7C7C7"/>
<path d="M436.3,443.8 L438.3,442.1 L440.5,440.5 L442.5,438.8 L445.1,438.7 L447.5,437.5 L450.0,436.9 L452.5,436.3 L455.0,436.6 L457.5,436.4 L460.0,437.0 L462.5,437.4 L465.0,437.5 L467.7,436.6 L469.8,434.6 L472.4,433.5 L475.0,432.5 L477.7,432.9 L479.9,434.5 L482.5,435.0 L484.0,437.2 L486.3,438.9 L487.5,441.3 L490.1,441.6 L492.6,441.3 L495.0,440.7 L497.5,440.4 L500.0,440.0 L502.1,440.9 L504.1,442.0 L505.6,443.8 L507.5,445.0 L509.0,447.3 L509.8,449.9 L510.8,452.4 L512.0,454.8 L512.5,457.5 L515.0,458.1 L517.5,458.7 L519.9,459.8 L522.5,460.0 L524.2,461.3 L525.7,462.7 L527.5,463.8 L530.0,462.5 L532.6,461.4 L535.0,460.0 L537.5,460.3 L540.0,460.8 L542.5,460.3 L545.0,461.0 L547.5,460.8 L550.0,460.0 L551.7,458.3 L552.5,456.2 L552.8,453.9 L553.0,451.7 L555.2,450.1 L557.5,448.6 L560.0,447.5 L562.4,446.4 L565.0,445.8 L566.9,446.2 L568.3,447.5 L568.4,449.9 L569.3,452.1 L569.2,454.5 L570.0,456.7 L570.1,459.5 L569.5,462.2 L570.0,465.0 L568.0,467.3 L566.7,470.0 L567.8,472.1 L568.1,474.4 L568.3,476.7 L570.1,479.1 L572.5,480.8 L572.1,483.8 L571.7,486.7 L569.4,487.0 L567.5,488.3 L569.0,489.9 L570.7,491.3 L571.7,493.3 L571.5,496.1 L571.4,498.9 L571.7,501.7 L569.6,503.6 L567.5,505.4 L565.0,506.7 L565.8,509.6 L566.3,512.5 L567.1,515.2 L568.8,517.5 L566.9,519.4 L565.8,522.0 L563.8,523.8 L561.8,524.9 L559.8,525.9 L557.5,526.3 L555.0,526.8 L552.5,525.9 L550.0,526.7 L547.5,526.3 L544.6,526.6 L541.7,527.2 L538.8,527.5 L536.7,528.8 L534.3,529.1 L532.4,530.8 L530.0,531.3 L527.4,531.9 L525.1,533.3 L522.5,533.7 L520.0,534.4 L519.1,536.5 L517.8,538.3 L516.3,540.0 L513.5,539.4 L510.6,539.6 L507.8,540.2 L505.0,540.0 L502.3,539.9 L499.7,541.0 L497.1,541.1 L494.4,541.3 L491.8,540.6 L489.2,540.6 L486.5,541.0 L484.0,539.7 L481.3,540.0 L480.9,537.4 L480.9,534.8 L481.4,532.2 L480.9,529.6 L481.0,527.0 L479.0,525.3 L477.0,523.7 L475.5,521.5 L476.3,519.0 L478.0,517.0 L480.4,515.4 L482.5,513.4 L485.0,512.0 L484.5,509.7 L483.8,507.5 L481.8,506.1 L480.0,504.4 L478.5,502.4 L476.3,501.3 L474.7,499.1 L473.2,496.8 L471.9,494.4 L470.0,492.5 L468.6,490.1 L467.6,487.7 L467.5,484.8 L466.4,482.4 L465.0,480.0 L463.5,477.6 L462.2,475.2 L461.5,472.4 L460.0,470.0 L457.5,469.5 L455.0,470.4 L452.5,469.5 L450.0,469.5 L447.5,470.0 L446.7,467.5 L445.6,465.0 L444.3,462.7 L443.8,460.0 L442.1,458.4 L441.8,455.9 L439.8,454.5 L438.8,452.5 L438.4,450.3 L437.3,448.2 L437.3,445.9Z" fill="#8BA4C9" stroke="#FBD38C" stroke-width=".9" stroke-linejoin="round"/>
<g fill="none" stroke="#FBD38C" stroke-width="1.2" stroke-linejoin="round" stroke-linecap="round">
<path d="M222.5,164.5 L222.5,167.2 L221.5,169.7 L220.5,172.1 L220.1,174.7 L219.5,177.3 L219.4,179.9 L218.8,182.5 L218.2,185.3 L218.5,188.2 L219.1,191.1 L218.4,193.9 L219.0,196.8 L217.4,199.6 L218.0,202.5 L219.5,204.8 L222.0,206.0 L224.6,205.1 L227.3,204.4 L230.0,204.0 L230.7,206.2 L232.6,207.8 L233.3,210.0 L235.3,211.3 L237.0,213.0 L238.5,214.9 L240.0,216.7 L240.6,218.9 L241.5,221.0 L239.3,222.1 L238.5,224.7 L236.5,226.0 L237.7,228.2 L239.8,229.4 L241.5,231.0 L241.0,233.7 L241.3,236.4 L242.0,239.0 L240.6,241.5 L238.3,243.3 L236.8,245.1 L236.3,247.4 L234.5,249.0 L234.2,251.8 L232.7,254.1 L231.5,256.5 L229.5,255.3 L227.2,254.7 L225.0,254.0 L222.8,254.8 L220.5,254.1 L218.3,255.0 L215.4,255.0 L212.9,256.7 L210.0,257.0 L208.8,258.6 L207.5,260.0 L205.5,261.4 L203.3,262.7 L202.3,265.2 L200.0,266.3 L199.1,268.3 L197.6,270.2 L197.5,272.5 L198.6,274.3 L199.8,276.0 L201.3,277.5 L199.3,278.9 L198.0,280.8 L196.3,282.5"/>
<path d="M151.3,260.0 L153.9,260.9 L156.6,261.2 L158.9,263.2 L161.7,263.3 L163.5,265.5 L166.1,266.6 L168.3,268.3 L168.9,269.9 L170.0,271.3 L172.2,272.9 L174.1,274.7 L175.9,276.7 L177.5,278.8 L180.3,279.3 L183.2,278.6 L185.9,280.0 L188.8,279.4 L191.6,279.8 L194.0,281.0 L196.3,282.5"/>
<path d="M196.3,282.5 L198.4,283.8 L199.5,286.0 L201.3,287.5 L201.8,290.0 L201.0,292.5 L201.3,295.0 L202.8,297.2 L204.8,299.1 L206.3,301.3 L208.0,302.7 L210.0,303.8"/>
<path d="M210.0,303.8 L211.7,301.9 L211.8,299.4 L213.2,297.3 L213.8,295.0 L215.9,295.2 L217.9,294.1 L220.0,294.4 L222.3,293.0 L225.0,293.0 L227.3,291.5 L230.0,291.3 L232.0,289.7 L234.6,288.9 L236.3,286.9 L239.1,287.3 L241.9,286.0 L244.7,285.8 L247.5,286.3 L249.0,286.8 L250.0,288.0 L249.5,290.3 L250.8,292.7 L250.0,295.0"/>
<path d="M210.0,303.8 L210.6,306.6 L212.5,308.8 L211.1,310.4 L210.5,312.4 L210.0,314.4 L207.6,315.6 L205.1,316.3 L202.5,316.9 L200.3,317.6 L198.1,318.5 L196.3,320.0 L196.4,322.7 L195.0,325.0 L193.9,327.2 L191.4,328.3 L190.8,331.0 L188.8,332.5 L186.5,334.0 L184.8,336.0 L182.5,337.5 L180.0,338.8"/>
<path d="M250.0,295.0 L252.1,293.8 L253.2,291.5 L255.0,290.0 L257.5,288.8 L259.8,287.5 L261.4,285.1 L263.8,283.8 L266.2,282.0 L267.7,279.4 L270.0,277.5 L271.2,275.3 L273.0,273.6 L275.0,272.1 L276.3,270.0 L278.3,268.6 L280.7,268.4 L282.7,267.0 L285.0,266.3 L287.2,264.3 L290.0,263.1 L292.5,262.3 L295.0,261.7"/>
<path d="M295.0,261.7 L296.2,259.0 L297.3,256.3 L297.5,253.3 L296.5,250.6 L297.7,247.7 L296.7,245.0 L297.0,242.5 L295.5,240.1 L296.5,237.5 L295.8,235.0 L297.6,232.7 L298.2,229.8 L300.0,227.5 L302.2,225.4 L303.0,222.4 L304.7,220.0 L306.3,217.5 L306.8,215.0 L307.2,212.5 L307.6,210.0 L307.5,207.5 L308.5,205.4 L310.0,203.7 L310.8,201.6 L312.5,200.0 L313.5,198.1 L315.0,196.7 L316.3,195.0"/>
<path d="M295.0,261.7 L296.0,263.8 L296.0,266.1 L296.7,268.3 L297.7,271.2 L300.0,273.3 L301.9,274.8 L304.0,276.0 L306.2,277.1 L308.3,278.2 L310.0,280.0 L310.6,282.3 L312.2,284.0 L314.1,285.4 L315.0,287.5 L314.6,290.0 L314.2,292.5 L313.6,294.9 L314.4,297.5 L313.8,300.0 L313.5,302.6 L313.0,305.1 L311.8,307.5 L311.3,310.0 L312.3,312.3 L314.1,314.0 L316.4,315.3 L317.5,317.5 L319.7,319.0 L322.1,320.3 L323.8,322.5"/>
<path d="M323.8,322.5 L326.4,321.5 L329.3,322.2 L332.0,321.9 L334.6,320.7 L337.2,320.1 L340.0,320.0 L342.5,319.3 L344.9,318.9 L347.5,318.9 L350.0,318.7 L352.5,319.6 L355.0,318.8 L357.4,318.0 L359.9,317.8 L362.6,318.7 L365.1,318.4 L367.5,317.5 L369.7,315.7 L372.4,314.8 L375.0,313.8 L375.2,316.3 L377.1,318.1 L377.7,320.4 L378.8,322.5 L378.9,325.5 L379.4,328.4 L380.0,331.3 L382.7,331.2 L384.9,332.9 L387.4,333.7 L390.0,333.8 L392.5,332.8 L394.9,331.7 L397.6,331.3 L400.0,330.0"/>
<path d="M323.8,322.5 L323.6,325.1 L322.9,327.5 L322.2,330.0 L322.4,332.6 L321.3,335.0 L322.0,337.5 L322.1,340.2 L323.4,342.5 L324.2,345.0 L325.0,347.5 L324.5,350.0 L325.1,352.5 L325.4,355.0 L324.5,357.5 L325.0,360.0 L322.8,362.0 L319.7,362.6 L317.2,364.2 L315.0,366.3 L312.8,368.1 L310.6,370.0 L308.9,372.5 L306.3,373.8 L306.2,376.7 L304.6,379.3 L304.1,382.1 L303.8,385.0 L304.1,387.5 L305.4,389.9 L304.9,392.6 L305.0,395.2 L306.3,397.5 L306.6,400.2 L307.7,402.6 L308.8,405.0 L309.3,407.9 L309.7,410.9 L310.0,413.8"/>
<path d="M257.5,410.0 L259.8,411.3 L262.5,411.1 L264.9,412.4 L267.5,412.5 L269.8,410.9 L272.5,410.0 L275.0,408.8 L277.4,407.8 L280.0,407.6 L282.3,406.3 L285.0,406.3 L287.5,406.2 L290.0,406.0 L292.5,405.6 L295.0,406.8 L297.5,407.0 L300.0,406.3 L302.9,405.3 L305.9,405.6 L308.8,405.0"/>
<path d="M250.0,295.0 L249.0,297.1 L249.5,299.5 L247.9,301.5 L248.1,303.8 L247.7,306.7 L247.5,309.6 L246.9,312.5 L247.4,315.0 L248.7,317.4 L248.8,320.0 L249.6,322.4 L249.5,325.0 L250.1,327.4 L250.0,330.0 L249.3,332.5 L249.3,335.0 L248.8,337.5 L248.8,340.0 L248.8,342.5 L248.7,345.0 L248.1,347.5 L248.1,350.1 L248.2,352.6 L249.5,355.0 L249.1,357.6 L250.0,360.0 L250.3,362.9 L249.6,365.8 L250.4,368.8 L249.9,371.7 L250.1,374.6 L250.0,377.5 L249.6,380.5 L250.0,383.4 L251.3,386.2 L251.5,389.1 L251.1,392.1 L251.3,395.0 L252.8,397.3 L253.8,399.8 L253.7,402.8 L254.8,405.3 L257.2,407.2 L257.5,410.0"/>
<path d="M212.5,388.8 L214.5,390.8 L216.3,393.0 L218.4,394.9 L220.3,397.0 L222.5,398.8 L224.8,400.2 L227.4,400.7 L230.2,400.5 L232.6,401.3 L235.0,402.5 L237.5,402.8 L240.0,403.2 L242.4,404.5 L244.9,404.5 L247.5,404.5 L250.0,405.0 L252.0,406.1 L254.0,407.1 L255.5,408.9 L257.5,410.0"/>
<path d="M180.0,338.8 L181.7,341.3 L181.4,344.5 L182.7,347.1 L184.7,349.5 L185.0,352.5 L185.2,355.0 L185.9,357.5 L185.2,360.1 L185.5,362.6 L186.3,365.0 L187.5,367.1 L188.0,369.5 L189.1,371.6 L190.0,373.8 L192.4,375.1 L194.5,376.8 L196.7,378.3 L198.8,380.0 L200.5,381.6 L201.6,383.8 L203.8,385.0 L205.8,386.3 L208.4,386.2 L210.4,387.6 L212.5,388.8"/>
<path d="M212.5,388.8 L214.6,390.0 L216.7,391.4 L218.0,393.7 L220.0,395.0 L221.2,397.4 L221.5,400.1 L222.5,402.5 L221.8,405.2 L219.3,407.2 L218.8,410.0 L219.4,412.6 L220.8,414.9 L221.3,417.5 L219.4,419.6 L216.5,420.1 L214.2,421.5 L212.4,423.7 L210.0,425.0 L208.4,427.0 L205.5,427.4 L203.6,429.0 L202.0,431.0 L200.0,432.5 L199.3,434.7 L197.2,436.0 L195.6,437.7 L195.0,440.0 L194.6,442.6 L193.7,445.1 L192.2,447.3 L191.7,449.9 L191.3,452.5 L190.0,454.8 L189.8,457.5 L189.8,460.1 L188.1,462.3 L187.7,464.9 L187.5,467.5"/>
<path d="M91.3,370.0 L91.4,372.7 L93.2,374.9 L94.1,377.3 L94.9,379.8 L95.0,382.5 L96.6,384.1 L98.4,385.5 L100.2,386.9 L102.5,387.5 L104.9,388.8 L107.4,389.7 L109.9,390.8 L112.5,391.5 L115.0,392.5 L117.8,393.2 L120.8,393.2 L123.6,393.7 L126.3,395.0"/>
<path d="M126.3,395.0 L126.6,392.4 L125.9,390.0 L125.9,387.5 L124.5,385.1 L125.0,382.5 L126.7,380.1 L128.3,377.7 L129.5,375.0 L131.0,372.5 L132.5,370.0 L134.9,368.9 L137.5,368.4 L140.0,367.9 L142.7,367.6 L145.0,366.3 L147.5,366.2 L150.0,365.8 L152.5,365.4 L155.0,365.8 L157.5,364.9 L160.0,365.0 L161.2,362.8 L163.4,361.7 L165.0,360.0 L163.4,358.3 L162.0,356.3 L160.0,355.0 L161.2,353.1 L162.7,351.4 L163.6,349.3 L165.0,347.5 L165.8,345.0 L166.0,342.3 L167.5,340.0 L170.0,339.7 L172.5,339.1 L175.0,339.1 L177.5,338.7 L180.0,338.8"/>
<path d="M126.3,395.0 L128.7,396.6 L131.0,398.3 L132.9,400.5 L135.0,402.5 L137.3,403.6 L139.1,405.4 L141.4,406.5 L143.0,408.5 L145.0,410.0 L146.8,411.9 L148.9,413.6 L150.3,416.0 L152.5,417.5 L155.3,418.1 L157.2,420.7 L160.0,421.2 L162.5,422.5 L164.4,424.2 L165.6,426.4 L167.1,428.4 L169.1,430.0 L170.0,432.5 L170.3,435.1 L171.0,437.6 L171.7,440.0 L172.5,442.5 L173.1,445.1 L173.6,447.7 L175.0,450.0"/>
<path d="M396.3,206.3 L395.4,208.4 L395.5,210.8 L395.0,213.0 L393.8,215.0 L395.5,217.4 L396.5,220.2 L398.7,222.3 L400.0,225.0 L399.1,227.4 L399.2,230.0 L399.1,232.5 L398.8,235.0 L399.9,237.6 L401.2,240.0 L402.5,242.5 L403.8,245.0 L402.9,247.4 L402.7,250.0 L402.5,252.5 L402.9,255.1 L402.2,257.6 L401.3,260.0 L401.6,262.6 L400.2,264.9 L399.8,267.4 L400.5,270.0 L400.0,272.5 L400.9,274.6 L403.1,275.9 L403.3,278.4 L405.0,280.0 L407.4,281.2 L408.4,283.9 L410.5,285.4 L412.5,287.0 L411.9,289.8 L412.5,292.5 L412.3,295.0 L413.0,297.5 L413.8,299.9 L413.9,302.5 L413.0,305.0 L413.8,307.5 L411.8,309.1 L410.8,311.6 L408.2,312.5 L407.2,315.0 L405.0,316.3 L404.4,318.9 L401.9,320.3 L400.7,322.5 L400.0,325.0 L400.2,327.5 L400.0,330.0"/>
<path d="M400.0,330.0 L400.4,332.8 L402.5,334.8 L402.6,337.7 L404.0,340.0 L403.7,342.5 L402.7,344.9 L403.2,347.5 L403.0,350.0 L404.5,351.8 L406.4,353.3 L407.4,355.6 L408.8,357.5 L409.6,359.8 L411.0,361.7 L413.1,363.1"/>
<path d="M450.0,212.5 L450.2,215.4 L450.9,218.3 L449.9,221.3 L450.7,224.2 L450.9,227.1 L451.3,230.0 L452.3,232.3 L454.9,233.3 L455.6,235.9 L457.5,237.5 L458.9,239.8 L459.9,242.4 L460.8,244.9 L461.1,247.6 L462.5,250.0 L464.9,251.0 L467.5,250.8 L470.0,250.5 L472.6,250.4 L475.0,251.3 L476.8,253.6 L478.4,256.1 L479.5,258.8 L481.0,261.3 L482.5,263.8 L485.2,264.0 L487.6,264.8 L489.8,266.6 L492.4,267.1 L495.0,267.5 L497.3,265.9 L500.2,266.0 L502.5,264.4 L504.9,263.3 L507.5,262.5 L510.2,261.7 L512.5,260.0 L513.8,262.2 L515.6,263.9 L517.1,265.9 L518.4,268.0 L520.0,270.0 L520.4,273.0 L521.6,275.8 L523.5,278.3 L523.8,281.3"/>
<path d="M583.8,131.3 L584.1,134.2 L583.0,136.9 L583.0,139.7 L582.5,142.5 L582.8,145.0 L584.2,147.0 L585.3,149.1 L586.3,151.3 L584.4,153.1 L584.1,155.8 L582.1,157.5 L581.3,160.0 L579.2,162.0 L576.7,163.5 L574.2,165.1 L572.5,167.5 L571.7,169.9 L571.7,172.5 L571.1,174.9 L571.3,177.5 L572.7,179.8 L572.7,182.5 L572.6,185.1 L573.8,187.5 L572.9,189.9 L572.9,192.5 L572.7,195.1 L572.0,197.5 L571.3,200.0 L569.7,202.2 L568.4,204.6 L566.3,206.3 L566.3,208.7 L567.3,210.7 L568.1,212.8 L568.8,215.0 L568.3,217.7 L567.2,220.1 L566.1,222.5 L565.0,225.0 L567.2,226.1 L568.9,227.9 L570.8,229.6 L572.5,231.3 L572.4,234.1 L572.4,236.8 L574.1,239.4 L574.1,242.2 L573.8,245.0 L573.0,247.9 L574.1,250.9 L573.5,253.8 L572.8,256.7 L572.7,259.6 L572.5,262.5 L572.3,265.1 L571.3,267.5"/>
<path d="M523.8,281.3 L526.5,280.9 L529.2,280.6 L531.9,279.7 L534.7,280.3 L537.4,279.6 L540.0,278.8 L542.5,279.0 L545.0,278.2 L547.6,278.6 L550.0,278.1 L552.5,277.5 L555.1,276.4 L557.2,274.4 L560.0,273.7 L562.5,272.5 L565.1,271.9 L566.9,270.1 L569.0,268.6 L571.3,267.5"/>
<path d="M571.3,267.5 L574.0,266.5 L576.7,266.4 L579.5,266.6 L582.2,265.9 L585.0,266.3 L587.4,267.3 L590.1,266.4 L592.5,267.6 L595.0,267.7 L597.4,268.9 L600.0,268.8 L602.4,268.0 L605.0,268.0 L607.5,267.8 L610.0,267.4 L612.5,267.5 L615.0,266.7 L617.5,267.4 L620.0,266.8 L622.5,267.5 L623.6,270.1 L625.6,272.2 L626.3,275.0 L628.1,276.7 L629.5,278.7 L630.5,281.0 L632.5,282.5 L634.1,284.8 L634.9,287.3 L634.9,290.2 L636.3,292.5 L639.1,292.0 L641.7,293.7 L644.5,293.4 L647.3,293.2 L650.0,293.8 L652.4,294.9 L655.0,295.0"/>
<path d="M655.0,295.0 L657.2,293.9 L658.4,291.7 L660.0,290.0 L662.3,288.5 L665.3,288.7 L667.5,286.9 L670.2,286.4 L672.5,285.0 L674.5,283.3 L676.9,282.5 L679.7,282.7 L681.9,281.5 L683.7,279.3 L686.3,279.0"/>
<path d="M655.0,295.0 L654.1,297.4 L654.8,300.1 L653.6,302.4 L653.8,305.0 L655.6,306.7 L656.6,309.0 L658.6,310.5 L660.0,312.5 L661.9,314.1 L663.9,315.6 L666.5,316.4 L667.8,318.8 L670.0,320.0 L672.0,321.5 L673.1,323.8 L674.3,326.0 L676.3,327.5 L677.0,330.1 L677.8,332.6 L679.4,334.9 L680.0,337.5 L678.3,339.2 L677.0,341.2 L675.0,342.5 L674.2,345.0 L673.9,347.7 L672.5,350.0 L669.7,350.4 L667.6,352.3 L664.9,352.8 L662.5,353.9 L660.0,355.0 L659.5,357.2 L658.1,359.2 L657.9,361.5 L657.5,363.8"/>
<path d="M523.8,281.3 L522.4,283.7 L521.2,286.2 L520.0,288.8 L518.8,291.0 L517.3,293.0 L516.3,295.3 L515.0,297.5 L513.8,300.0 L513.0,302.7 L511.8,305.3 L510.0,307.5 L507.4,308.6 L505.3,310.6 L502.5,311.3 L500.0,311.3 L497.5,311.7 L495.0,312.2 L492.5,311.8 L490.0,312.5 L488.2,313.9 L486.3,315.1 L484.1,315.9 L482.5,317.5 L482.2,320.0 L481.9,322.5 L482.4,325.1 L481.3,327.5 L480.2,329.9 L479.7,332.6 L478.9,335.2 L477.5,337.5 L475.8,339.9 L474.6,342.6 L473.4,345.2 L471.6,347.6 L470.0,350.0 L467.6,351.0 L465.0,351.3 L462.5,351.7 L460.0,351.5 L457.6,353.0 L455.0,352.5 L452.0,352.3 L449.2,353.1 L446.3,353.8 L444.9,356.2 L443.8,358.8 L441.6,358.9 L439.6,357.7 L437.5,357.5 L435.2,356.9 L433.8,355.0 L431.7,355.3 L429.6,356.1 L427.5,356.3 L425.0,357.4 L423.8,360.1 L421.3,361.3 L418.6,361.9 L415.8,362.4 L413.1,363.1"/>
<path d="M520.0,288.8 L522.3,290.0 L523.4,292.4 L525.2,294.1 L527.5,295.3 L528.8,297.5 L531.0,299.6 L531.3,302.9 L533.6,304.9 L535.0,307.5 L536.3,309.9 L536.8,312.6 L537.4,315.3 L539.3,317.4 L540.0,320.0 L541.5,322.5 L544.2,323.8 L545.5,326.5 L547.8,328.2 L550.0,330.0 L551.8,332.2 L551.9,335.3 L554.3,337.2 L555.0,340.0 L555.9,342.4 L555.4,345.0 L555.0,347.6 L556.8,349.9 L556.3,352.5 L556.0,355.5 L556.7,358.4 L557.5,361.3"/>
<path d="M413.1,363.1 L411.4,365.2 L411.3,368.0 L409.9,370.1 L408.8,372.5 L409.8,374.5 L410.3,376.6 L410.0,378.8 L411.5,380.8 L411.7,383.2 L413.2,385.2 L413.8,387.5 L415.3,389.8 L416.9,391.9 L418.8,393.8 L420.0,395.9 L421.9,397.6 L422.5,400.0 L424.3,402.2 L425.3,404.8 L426.3,407.5 L426.5,409.6 L425.6,411.7 L426.3,413.8 L424.4,414.8 L423.0,416.3 L421.3,417.5 L420.0,419.5 L418.1,420.9 L416.3,422.5 L415.0,424.4 L414.5,426.5 L414.4,428.8 L415.6,430.5 L416.3,432.5"/>
<path d="M416.3,432.5 L414.1,433.6 L411.9,434.6 L410.0,436.3 L407.5,437.0 L404.9,436.3 L402.4,436.6 L400.0,437.5 L397.3,437.4 L394.9,438.5 L392.6,439.6 L390.0,440.0 L387.5,439.5 L385.0,440.6 L382.5,440.0 L380.8,441.6 L379.6,443.7 L377.5,445.0"/>
<path d="M416.3,432.5 L419.2,432.5 L422.1,432.1 L425.0,432.5 L426.9,434.1 L429.0,435.4 L431.3,436.3 L432.4,438.3 L434.4,439.6 L435.4,441.7 L436.3,443.8"/>
<path d="M426.3,413.8 L428.3,413.1 L430.5,413.4 L432.5,412.5 L434.8,411.0 L437.4,410.5 L440.0,410.0 L442.0,409.0 L444.4,408.9 L446.3,407.5 L448.8,407.3 L451.3,407.5 L452.3,405.0 L452.4,402.3 L453.8,400.0 L454.8,397.8 L456.9,396.5 L458.1,394.4 L460.5,394.5 L462.8,394.8 L465.1,394.3 L467.5,394.4 L470.0,394.7 L472.6,394.5 L475.1,394.9 L477.5,395.6 L480.3,394.9 L483.1,395.1 L486.0,395.5 L488.8,395.6 L491.0,394.3 L493.1,393.0 L495.0,391.3 L496.2,388.6 L497.5,386.0 L498.1,383.1 L500.5,383.2 L502.8,381.7 L505.3,382.8 L507.6,381.8 L510.0,381.5 L512.5,381.0 L514.9,380.1 L517.4,379.8 L520.0,380.0 L522.2,378.1 L524.7,376.9 L527.7,376.7 L530.0,375.0 L532.5,374.2 L535.1,374.2 L537.7,373.9 L540.0,372.5 L541.7,374.5 L544.1,375.9 L546.0,377.7 L547.5,380.0 L550.3,379.4 L552.5,377.5 L554.9,376.0 L557.5,375.0 L558.2,372.3 L557.0,369.5 L558.1,366.8 L556.7,364.0 L557.5,361.3"/>
<path d="M557.5,361.3 L560.1,362.7 L562.6,364.3 L564.7,366.5 L567.5,367.5 L569.2,369.7 L571.9,370.6 L573.4,372.9 L575.4,374.7 L577.6,376.3 L580.0,377.5 L582.8,378.1 L584.7,380.7 L587.7,380.9 L589.8,383.0 L592.5,383.8 L595.1,384.0 L597.5,385.4 L600.0,385.9 L602.4,387.1 L605.0,387.5"/>
<path d="M605.0,387.5 L602.5,388.1 L600.0,388.8 L597.4,389.0 L595.0,390.0 L594.1,392.0 L594.5,394.2 L593.8,396.3 L596.6,396.7 L599.4,397.1 L602.2,397.5 L605.0,397.5 L602.6,398.4 L600.8,400.2 L598.6,401.5 L596.8,403.3 L595.0,405.0 L594.1,407.7 L592.8,410.2 L592.0,412.9 L590.0,415.0 L590.0,417.5 L590.0,420.0 L590.3,422.8 L589.8,425.6 L589.2,428.3 L587.6,430.0 L585.9,431.5 L583.3,431.7 L581.7,433.3 L580.2,435.2 L578.2,436.5 L576.7,438.3 L574.6,439.2 L573.6,441.4 L571.7,442.5 L569.9,444.5 L568.3,446.7"/>
<path d="M605.0,387.5 L607.5,388.7 L610.2,389.6 L612.2,391.9 L615.0,392.5 L617.8,393.6 L620.8,393.8 L623.8,393.8 L624.9,391.1 L624.3,388.0 L626.1,385.4 L626.3,382.5 L627.3,379.7 L629.2,377.4 L630.9,375.0 L632.5,372.5 L634.8,370.9 L637.5,370.1 L640.0,368.7 L642.2,366.9 L645.0,366.3 L647.4,365.5 L650.0,365.3 L652.6,365.3 L655.1,364.7 L657.5,363.8"/>
<path d="M657.5,363.8 L659.9,365.1 L662.4,366.0 L665.0,366.9 L667.5,367.8 L670.0,368.8 L672.2,370.8 L675.3,371.4 L677.7,373.2 L680.0,375.0 L682.5,375.8 L685.1,375.7 L687.4,377.1 L690.1,377.3 L692.4,378.7 L695.0,378.8 L697.6,379.4 L699.8,381.2 L702.3,382.2 L705.0,382.5 L706.6,384.8 L707.8,387.3 L709.4,389.7 L710.0,392.5 L712.1,394.1 L714.0,396.0 L715.6,398.2 L717.5,400.0 L718.1,402.3 L720.3,403.6 L721.0,405.8 L722.5,407.5 L724.9,406.4 L727.4,405.6 L730.0,405.0 L732.9,404.6 L735.9,405.6 L738.8,405.0"/>
<path d="M738.8,405.0 L739.2,402.5 L739.4,400.0 L739.6,397.5 L740.0,395.0 L742.6,394.6 L745.0,393.2 L747.5,392.5 L749.7,390.7 L752.6,390.2 L754.7,388.1 L757.5,387.5 L760.2,386.2 L762.1,384.0 L763.6,381.3 L766.3,380.0 L767.4,377.7 L769.9,376.4 L771.2,374.3 L772.5,372.1 L773.8,370.0 L774.9,367.7 L776.7,365.9 L777.9,363.7 L778.8,361.3 L781.5,360.6 L784.3,361.7 L787.0,360.9 L789.8,361.7 L792.5,361.3"/>
<path d="M801.3,312.5 L802.0,315.0 L801.4,317.5 L801.3,320.0 L799.1,321.1 L798.3,323.6 L796.3,325.0 L796.8,327.5 L796.4,330.1 L796.6,332.6 L797.5,335.0 L796.6,337.5 L795.0,339.7 L794.2,342.3 L793.8,345.0 L794.1,347.5 L795.0,349.9 L794.8,352.5 L795.0,355.0 L794.1,357.1 L794.1,359.5 L792.5,361.3"/>
<path d="M792.5,361.3 L795.2,362.1 L797.5,363.7 L800.0,365.0 L800.2,367.6 L801.5,369.9 L800.9,372.6 L802.4,374.9 L802.5,377.5 L804.8,379.0 L806.3,381.2 L808.3,382.9 L810.0,385.0 L810.6,387.6 L811.2,390.3 L812.2,392.8 L813.8,395.0 L813.5,397.5 L813.8,400.0 L813.2,402.5 L813.8,405.0 L814.7,407.5 L816.2,409.8 L817.0,412.3 L817.5,415.0 L817.8,417.7 L819.9,419.8 L820.0,422.5 L821.1,425.1 L822.5,427.5 L824.6,428.8 L826.8,430.2 L828.8,431.6 L830.7,433.2 L832.5,435.0 L834.5,437.1 L836.7,439.0 L837.5,442.1 L840.0,443.8 L842.6,444.5 L845.0,445.5 L847.5,446.3 L847.5,449.1 L848.1,451.9 L848.3,454.7 L848.8,457.5"/>
<path d="M738.8,405.0 L741.0,406.4 L741.7,408.9 L743.4,410.7 L745.0,412.5 L744.8,415.1 L745.2,417.6 L746.3,420.0 L746.6,422.5 L746.9,425.1 L747.7,427.5 L748.3,430.0 L748.8,432.5 L747.4,434.4 L746.7,436.5 L746.3,438.8 L743.5,440.0 L740.4,440.0 L738.0,442.1 L735.0,442.5 L733.9,444.9 L733.2,447.4 L733.5,450.1 L732.5,452.5 L733.1,454.6 L733.2,456.7 L733.0,458.8"/>
<path d="M733.0,458.8 L730.4,458.4 L727.9,459.4 L725.3,459.2 L722.7,458.7 L720.1,459.5 L717.6,458.4 L715.0,458.8 L712.9,458.2 L711.4,456.7 L710.0,455.0 L709.7,452.4 L709.3,449.9 L708.0,447.5 L707.5,445.0 L705.3,443.2 L702.8,442.2 L700.0,441.7 L697.2,441.3 L694.5,440.5 L692.2,438.7 L689.5,438.0 L686.7,437.5 L683.7,437.7 L681.3,439.8 L678.3,440.0 L675.4,439.5 L672.5,439.3 L669.6,438.7 L666.7,438.3 L664.0,438.3 L661.3,438.7 L658.7,439.9 L655.9,439.1 L653.3,440.0 L652.2,442.1 L651.3,444.3 L650.8,446.7 L652.1,448.5 L653.4,450.2 L655.0,451.7 L653.7,453.7 L653.4,456.0 L653.3,458.3 L654.5,460.5 L656.0,462.6 L656.7,465.0 L656.7,467.6 L655.8,470.0 L656.7,472.4 L656.4,475.0 L656.7,477.5 L655.3,479.0 L653.3,479.2 L650.8,478.8 L648.2,478.9 L645.9,477.4 L643.3,477.5 L640.8,478.3 L638.2,478.2 L635.7,478.8 L633.3,480.0 L630.6,480.3 L628.1,480.9 L625.8,482.5 L623.3,483.3"/>
<path d="M733.0,458.8 L734.1,461.1 L736.0,462.9 L736.1,465.7 L738.1,467.5 L738.8,470.0 L740.5,471.8 L743.1,472.5 L744.7,474.4 L746.3,476.3 L748.8,477.6 L751.2,479.1 L753.5,480.6 L756.3,481.3 L758.5,482.9 L760.7,484.3 L762.5,486.3 L761.5,488.5 L759.7,490.2 L758.8,492.5 L756.4,493.0 L754.6,494.9 L752.1,495.0 L750.0,496.3 L749.8,498.4 L749.6,500.5 L748.8,502.5 L750.5,504.1 L752.8,504.7 L754.4,506.3 L756.3,507.5 L757.0,510.0 L757.3,512.5 L757.7,514.9 L757.5,517.5 L756.1,519.8 L755.4,522.3 L755.0,525.0"/>
<path d="M623.3,483.3 L623.5,485.6 L623.6,487.8 L624.2,490.0 L625.1,492.2 L625.9,494.5 L626.7,496.7 L629.4,495.6 L632.4,495.5 L635.0,494.2 L635.9,496.6 L636.8,499.1 L636.7,501.7 L637.7,504.4 L637.7,507.3 L638.3,510.0 L638.9,512.5 L640.5,514.5 L641.7,516.7 L643.9,517.8 L645.3,519.8 L646.7,521.7 L648.9,523.8 L650.0,526.7 L649.7,529.0 L649.1,531.2 L648.3,533.3 L646.2,534.2 L645.0,536.1 L643.3,537.5 L644.3,539.9 L645.7,542.0 L648.1,543.5 L649.5,545.6 L650.4,548.0 L652.7,549.9 L655.9,549.8 L658.2,551.7 L660.8,553.0 L660.6,555.4 L661.8,557.7 L661.2,560.2 L661.9,562.5"/>
<path d="M568.3,476.7 L570.8,478.0 L573.5,478.6 L576.5,478.0 L579.1,478.9 L581.7,480.0 L584.3,478.8 L587.3,478.7 L590.0,477.5 L591.6,477.1 L593.3,476.7 L594.0,478.8 L595.0,480.8 L597.9,481.4 L600.8,481.4 L603.7,482.0 L606.7,481.7 L609.6,481.6 L612.2,482.9 L615.0,483.3 L617.8,484.0 L620.5,483.5 L623.3,483.3"/>
</g>
<ellipse cx="450.8" cy="275.2" rx="6" ry="8.8" fill="none" stroke="#FBD38C" stroke-width="1" opacity=".85"/>
<path d="M500.6,547.5 L507.5,546.9 L511.3,549.4 L505.0,550.6 L502.5,550.0Z" fill="#8BA4C9"/>
<g fill="none" stroke="#fff" stroke-linejoin="round" stroke-linecap="round">
<path d="M506.3,500.0 L510.0,503.8 L512.0,510.0 L513.1,515.0 L517.5,521.3 L515.0,528.8 L514.6,535.0 L516.5,540.0" stroke-width="2.4"/>
<path d="M493.8,531.3 L496.9,536.9 L494.4,541.5" stroke-width="1.4"/>
<path d="M501.3,528.8 L496.9,536.9" stroke-width="1.4"/>
<path d="M431.0,558.0 L434.8,559.7 L444.8,569.7 L449.6,576.5 L447.3,579.9 L443.6,576.0 L437.3,569.7 L430.6,559.7Z" fill="#fff" stroke="none"/>
</g>
<text x="156.68" y="215.8" font-size="9.7" fill="#2A1A08" textLength="51.98" lengthAdjust="spacingAndGlyphs" stroke="#2A1A08" stroke-width="0.35" stroke-linejoin="round">ВОЛИНСЬКА</text>
<text x="173.45" y="237.0" font-size="17.8" fill="#140C04" textLength="19.09" lengthAdjust="spacingAndGlyphs" font-weight="bold" stroke="#140C04" stroke-width="0.7" stroke-linejoin="round">41</text>
<text x="243.48" y="240.4" font-size="9.7" fill="#2A1A08" textLength="49.42" lengthAdjust="spacingAndGlyphs" stroke="#2A1A08" stroke-width="0.35" stroke-linejoin="round">РІВНЕНСЬКА</text>
<text x="255.35" y="260.6" font-size="17.8" fill="#140C04" textLength="19.49" lengthAdjust="spacingAndGlyphs" font-weight="bold" stroke="#140C04" stroke-width="0.7" stroke-linejoin="round">85</text>
<text x="320.18" y="258.1" font-size="9.7" fill="#2A1A08" textLength="67.47" lengthAdjust="spacingAndGlyphs" stroke="#2A1A08" stroke-width="0.35" stroke-linejoin="round">ЖИТОМИРСЬКА</text>
<text x="344.65" y="276.6" font-size="17.8" fill="#140C04" textLength="20.19" lengthAdjust="spacingAndGlyphs" font-weight="bold" stroke="#140C04" stroke-width="0.7" stroke-linejoin="round">41</text>
<text x="116.38" y="317.5" font-size="9.7" fill="#2A1A08" textLength="45.59" lengthAdjust="spacingAndGlyphs" stroke="#2A1A08" stroke-width="0.35" stroke-linejoin="round">ЛЬВІВСЬКА</text>
<text x="128.95" y="337.5" font-size="17.8" fill="#140C04" textLength="20.09" lengthAdjust="spacingAndGlyphs" font-weight="bold" stroke="#140C04" stroke-width="0.7" stroke-linejoin="round">82</text>
<text x="254.08" y="327.3" font-size="9.7" fill="#2A1A08" textLength="60.31" lengthAdjust="spacingAndGlyphs" stroke="#2A1A08" stroke-width="0.35" stroke-linejoin="round">ХМЕЛЬНИЦЬКА</text>
<text x="274.33" y="345.6" font-size="17.8" fill="#140C04" textLength="20.21" lengthAdjust="spacingAndGlyphs" font-weight="bold" stroke="#140C04" stroke-width="0.7" stroke-linejoin="round">16</text>
<text x="180.68" y="346.0" font-size="9.7" fill="#2A1A08" textLength="65.12" lengthAdjust="spacingAndGlyphs" stroke="#2A1A08" stroke-width="0.35" stroke-linejoin="round">ТЕРНОПІЛЬСЬКА</text>
<text x="197.59" y="364.8" font-size="17.8" fill="#140C04" textLength="31.34" lengthAdjust="spacingAndGlyphs" font-weight="bold" stroke="#140C04" stroke-width="0.7" stroke-linejoin="round">196</text>
<text x="441.18" y="264.9" font-size="9.7" fill="#2A1A08" textLength="19.46" lengthAdjust="spacingAndGlyphs" stroke="#2A1A08" stroke-width="0.35" stroke-linejoin="round">КИЇВ</text>
<text x="435.35" y="284.0" font-size="17.8" fill="#140C04" textLength="31.18" lengthAdjust="spacingAndGlyphs" font-weight="bold" stroke="#140C04" stroke-width="0.7" stroke-linejoin="round">348</text>
<text x="485.98" y="210.2" font-size="9.7" fill="#2A1A08" textLength="56.70" lengthAdjust="spacingAndGlyphs" stroke="#2A1A08" stroke-width="0.35" stroke-linejoin="round">ЧЕРНІГІВСЬКА</text>
<text x="509.75" y="228.6" font-size="17.8" fill="#140C04" textLength="9.20" lengthAdjust="spacingAndGlyphs" font-weight="bold" stroke="#140C04" stroke-width="0.7" stroke-linejoin="round">9</text>
<text x="602.07" y="237.3" font-size="9.7" fill="#2A1A08" textLength="39.89" lengthAdjust="spacingAndGlyphs" stroke="#2A1A08" stroke-width="0.35" stroke-linejoin="round">СУМСЬКА</text>
<text x="612.95" y="255.2" font-size="17.8" fill="#140C04" textLength="19.49" lengthAdjust="spacingAndGlyphs" font-weight="bold" stroke="#140C04" stroke-width="0.7" stroke-linejoin="round">63</text>
<text x="425.18" y="319.3" font-size="9.7" fill="#2A1A08" textLength="40.39" lengthAdjust="spacingAndGlyphs" stroke="#2A1A08" stroke-width="0.35" stroke-linejoin="round">КИЇВСЬКА</text>
<text x="428.57" y="339.0" font-size="17.8" fill="#140C04" textLength="31.96" lengthAdjust="spacingAndGlyphs" font-weight="bold" stroke="#140C04" stroke-width="0.7" stroke-linejoin="round">140</text>
<text x="576.38" y="323.7" font-size="9.7" fill="#2A1A08" textLength="55.88" lengthAdjust="spacingAndGlyphs" stroke="#2A1A08" stroke-width="0.35" stroke-linejoin="round">ПОЛТАВСЬКА</text>
<text x="594.25" y="342.5" font-size="17.8" fill="#140C04" textLength="20.29" lengthAdjust="spacingAndGlyphs" font-weight="bold" stroke="#140C04" stroke-width="0.7" stroke-linejoin="round">20</text>
<text x="487.18" y="351.4" font-size="9.7" fill="#2A1A08" textLength="47.20" lengthAdjust="spacingAndGlyphs" stroke="#2A1A08" stroke-width="0.35" stroke-linejoin="round">ЧЕРКАСЬКА</text>
<text x="501.85" y="371.0" font-size="17.8" fill="#140C04" textLength="20.29" lengthAdjust="spacingAndGlyphs" font-weight="bold" stroke="#140C04" stroke-width="0.7" stroke-linejoin="round">86</text>
<text x="342.07" y="378.6" font-size="9.7" fill="#2A1A08" textLength="48.28" lengthAdjust="spacingAndGlyphs" stroke="#2A1A08" stroke-width="0.35" stroke-linejoin="round">ВІННИЦЬКА</text>
<text x="351.30" y="399.0" font-size="17.8" fill="#140C04" textLength="30.24" lengthAdjust="spacingAndGlyphs" font-weight="bold" stroke="#140C04" stroke-width="0.7" stroke-linejoin="round">119</text>
<text x="493.48" y="411.8" font-size="9.7" fill="#2A1A08" textLength="75.18" lengthAdjust="spacingAndGlyphs" stroke="#2A1A08" stroke-width="0.35" stroke-linejoin="round">КІРОВОГРАДСЬКА</text>
<text x="521.55" y="431.2" font-size="17.8" fill="#140C04" textLength="20.39" lengthAdjust="spacingAndGlyphs" font-weight="bold" stroke="#140C04" stroke-width="0.7" stroke-linejoin="round">82</text>
<text x="611.67" y="410.6" font-size="9.7" fill="#2A1A08" textLength="90.57" lengthAdjust="spacingAndGlyphs" stroke="#2A1A08" stroke-width="0.35" stroke-linejoin="round">ДНІПРОПЕТРОВСЬКА</text>
<text x="647.75" y="430.0" font-size="17.8" fill="#140C04" textLength="19.99" lengthAdjust="spacingAndGlyphs" font-weight="bold" stroke="#140C04" stroke-width="0.7" stroke-linejoin="round">52</text>
<text x="484.07" y="490.0" font-size="9.7" fill="#2A1A08" textLength="66.27" lengthAdjust="spacingAndGlyphs" stroke="#2A1A08" stroke-width="0.35" stroke-linejoin="round">МИКОЛАЇВСЬКА</text>
<text x="420.48" y="502.6" font-size="9.7" fill="#2A1A08" textLength="38.89" lengthAdjust="spacingAndGlyphs" stroke="#2A1A08" stroke-width="0.35" stroke-linejoin="round">ОДЕСЬКА</text>
<text x="430.35" y="520.8" font-size="17.8" fill="#140C04" textLength="21.18" lengthAdjust="spacingAndGlyphs" font-weight="bold" stroke="#140C04" stroke-width="0.7" stroke-linejoin="round">46</text>
<text x="573.47" y="531.2" font-size="9.7" fill="#2A1A08" textLength="56.69" lengthAdjust="spacingAndGlyphs" stroke="#2A1A08" stroke-width="0.35" stroke-linejoin="round">ХЕРСОНСЬКА</text>
<text x="592.95" y="549.8" font-size="17.8" fill="#140C04" textLength="19.19" lengthAdjust="spacingAndGlyphs" font-weight="bold" stroke="#140C04" stroke-width="0.7" stroke-linejoin="round">27</text>
<text x="822.57" y="361.9" font-size="9.7" fill="#2A1A08" textLength="47.79" lengthAdjust="spacingAndGlyphs" stroke="#2A1A08" stroke-width="0.35" stroke-linejoin="round">ЛУГАНСЬКА</text>
<text x="842.25" y="380.3" font-size="17.8" fill="#140C04" textLength="9.20" lengthAdjust="spacingAndGlyphs" font-weight="bold" stroke="#140C04" stroke-width="0.7" stroke-linejoin="round">3</text>
<text x="766.67" y="442.3" font-size="9.7" fill="#2A1A08" textLength="46.28" lengthAdjust="spacingAndGlyphs" stroke="#2A1A08" stroke-width="0.35" stroke-linejoin="round">ДОНЕЦЬКА</text>
<text x="781.26" y="461.3" font-size="17.8" fill="#140C04" textLength="18.68" lengthAdjust="spacingAndGlyphs" font-weight="bold" stroke="#140C04" stroke-width="0.7" stroke-linejoin="round">11</text>
<text x="670.17" y="490.0" font-size="9.7" fill="#2A1A08" textLength="50.70" lengthAdjust="spacingAndGlyphs" stroke="#2A1A08" stroke-width="0.35" stroke-linejoin="round">ЗАПОРІЗЬКА</text>
<text x="685.35" y="508.9" font-size="17.8" fill="#140C04" textLength="20.68" lengthAdjust="spacingAndGlyphs" font-weight="bold" stroke="#140C04" stroke-width="0.7" stroke-linejoin="round">54</text>
<text x="707.57" y="332.8" font-size="9.7" fill="#2A1A08" textLength="50.39" lengthAdjust="spacingAndGlyphs" stroke="#2A1A08" stroke-width="0.35" stroke-linejoin="round">ХАРКІВСЬКА</text>
<text x="729.25" y="351.0" font-size="17.8" fill="#140C04" textLength="9.20" lengthAdjust="spacingAndGlyphs" font-weight="bold" stroke="#140C04" stroke-width="0.7" stroke-linejoin="round">6</text>
<text x="164.08" y="386.4" font-size="9.7" fill="#2A1A08" textLength="26.13" lengthAdjust="spacingAndGlyphs" stroke="#2A1A08" stroke-width="0.35" stroke-linejoin="round">ІВАНО-</text>
<text x="149.88" y="397.0" font-size="9.7" fill="#2A1A08" textLength="58.08" lengthAdjust="spacingAndGlyphs" stroke="#2A1A08" stroke-width="0.35" stroke-linejoin="round">ФРАНКІВСЬКА</text>
<text x="163.35" y="415.9" font-size="17.8" fill="#140C04" textLength="31.18" lengthAdjust="spacingAndGlyphs" font-weight="bold" stroke="#140C04" stroke-width="0.7" stroke-linejoin="round">254</text>
<text x="73.27" y="417.4" font-size="9.7" fill="#2A1A08" textLength="64.98" lengthAdjust="spacingAndGlyphs" stroke="#2A1A08" stroke-width="0.35" stroke-linejoin="round">ЗАКАРПАТСЬКА</text>
<text x="96.55" y="436.2" font-size="17.8" fill="#140C04" textLength="19.49" lengthAdjust="spacingAndGlyphs" font-weight="bold" stroke="#140C04" stroke-width="0.7" stroke-linejoin="round">56</text>
<text x="221.38" y="423.7" font-size="9.7" fill="#2A1A08" textLength="52.73" lengthAdjust="spacingAndGlyphs" stroke="#2A1A08" stroke-width="0.35" stroke-linejoin="round">ЧЕРНІВЕЦЬКА</text>
<text x="231.15" y="442.9" font-size="17.8" fill="#140C04" textLength="30.59" lengthAdjust="spacingAndGlyphs" font-weight="bold" stroke="#140C04" stroke-width="0.7" stroke-linejoin="round">366</text>
<text x="603.15" y="638.6" font-size="11.9" fill="#141414" textLength="46.47" lengthAdjust="spacingAndGlyphs" stroke="#141414" stroke-width="0.3" stroke-linejoin="round">АР Крим</text>
<text x="132.82" y="505.0" font-size="9.8" fill="#1B4283" textLength="96.22" lengthAdjust="spacingAndGlyphs" font-weight="bold" stroke="#1B4283" stroke-width="0.45" stroke-linejoin="round">З ПОЧАТКУ РОКУ</text>
<text y="525.6" font-size="18.5" fill="#1B4283" lengthAdjust="spacingAndGlyphs" font-weight="bold" stroke-width="0.6" stroke-linejoin="round" stroke="#1B4283"><tspan x="24.32" textLength="116.06" lengthAdjust="spacingAndGlyphs">ПРОВЕДЕНО</tspan> <tspan x="146.60" textLength="56.39" lengthAdjust="spacingAndGlyphs" fill="#F19304" stroke="#F19304">23 522</tspan> <tspan x="210.30" textLength="127.30" lengthAdjust="spacingAndGlyphs">ДОСЛІДЖЕНЬ</tspan></text>
<rect x="114.3" y="544.2" width="126" height="1.1" fill="#8C8C8C"/>
<text x="28.00" y="624.2" font-size="42.6" fill="#F19304" textLength="47.60" lengthAdjust="spacingAndGlyphs" font-weight="bold" stroke="#F19304" stroke-width="1.2" stroke-linejoin="round">61</text>
<text y="622.0" font-size="60.8" fill="#F19304" lengthAdjust="spacingAndGlyphs" font-weight="bold" stroke-width="1.8" stroke-linejoin="round" stroke="#F19304"><tspan x="103.87" textLength="32.69" lengthAdjust="spacingAndGlyphs">2</tspan> <tspan x="148.84" textLength="99.33" lengthAdjust="spacingAndGlyphs">203</tspan></text>
<text x="276.94" y="624.2" font-size="42.6" fill="#9B9B9B" textLength="50.19" lengthAdjust="spacingAndGlyphs" font-weight="bold" stroke="#9B9B9B" stroke-width="1.2" stroke-linejoin="round">69</text>
<g fill="#8A8A8A"><rect x="56" y="642" width="116" height="1.3"/><rect x="182.5" y="642" width="115.5" height="1.3"/><circle cx="50.7" cy="642.7" r="3"/><circle cx="177.1" cy="642.7" r="3"/><circle cx="303.2" cy="642.7" r="3"/></g>
<text x="23.68" y="667.4" font-size="10.3" fill="#1B4283" textLength="55.96" lengthAdjust="spacingAndGlyphs" stroke="#1B4283" stroke-width="0.35" stroke-linejoin="round">ОДУЖАЛО</text>
<text x="134.08" y="667.4" font-size="10.3" fill="#1B4283" textLength="85.36" lengthAdjust="spacingAndGlyphs" stroke="#1B4283" stroke-width="0.35" stroke-linejoin="round">ПІДТВЕРДЖЕНО</text>
<text x="275.78" y="667.4" font-size="10.3" fill="#1B4283" textLength="54.56" lengthAdjust="spacingAndGlyphs" stroke="#1B4283" stroke-width="0.35" stroke-linejoin="round">ПОМЕРЛО</text>
<rect x="15.3" y="700.6" width="931" height="1.8" fill="#F19304"/>
<text x="16.30" y="714.9" font-size="9.4" fill="#8a8a8a" textLength="406.34" lengthAdjust="spacingAndGlyphs">* Дані з АР Крим та території ОРДЛО відсутні у зв’язку з тимчасовою окупацією РФ</text>
<text x="878.51" y="714.2" font-size="9.2" fill="#F19304" textLength="66.19" lengthAdjust="spacingAndGlyphs">www.phc.org.ua</text>
</svg></body></html>
